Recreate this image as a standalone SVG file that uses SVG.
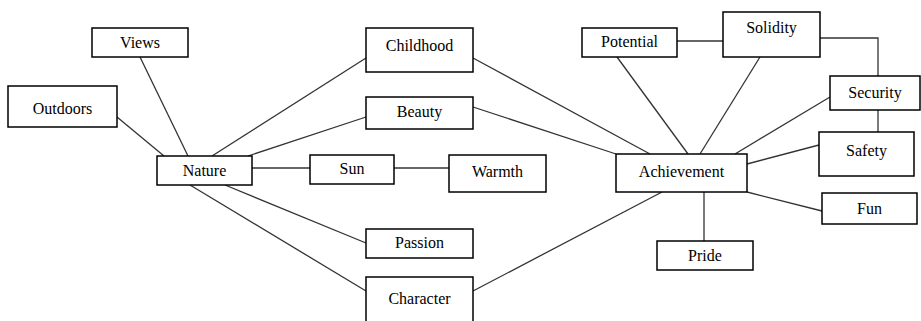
<svg xmlns="http://www.w3.org/2000/svg" width="921" height="321" viewBox="0 0 921 321">
<style>
.n rect{fill:#fff;stroke:#000;stroke-width:1.5}
.n text{font-size:16px;fill:#000;text-anchor:middle}
#edges line,#edges polyline{stroke:#333;stroke-width:1.3;fill:none}
</style>
<rect width="921" height="321" fill="#fff"/>
<g id="edges">
<line x1="140" y1="57" x2="188" y2="156"/>
<line x1="117" y1="117" x2="164" y2="156"/>
<line x1="366" y1="58" x2="212" y2="156"/>
<line x1="366" y1="117" x2="248" y2="156"/>
<line x1="252" y1="168" x2="310" y2="168"/>
<line x1="394" y1="168" x2="449" y2="168"/>
<line x1="225" y1="185" x2="366" y2="243"/>
<line x1="190" y1="185" x2="366" y2="291"/>
<line x1="473" y1="58" x2="650" y2="154"/>
<line x1="473" y1="107" x2="616" y2="154"/>
<line x1="473" y1="291" x2="662" y2="192"/>
<line x1="677" y1="41" x2="723" y2="41"/>
<polyline points="820,38 878,38 878,76"/>
<line x1="878" y1="110" x2="878" y2="132"/>
<line x1="617" y1="57" x2="688" y2="154"/>
<line x1="760" y1="57" x2="700" y2="154"/>
<line x1="830" y1="97" x2="735" y2="154"/>
<line x1="819" y1="145" x2="747" y2="164"/>
<line x1="747" y1="192" x2="822" y2="211"/>
<line x1="704" y1="192" x2="704" y2="241"/>
</g>
<g font-family="Liberation Serif, Times New Roman, serif">
<g id="views" class="n"><rect x="92" y="28" width="96" height="29"/><text x="140" y="48">Views</text></g>
<g id="outdoors" class="n"><rect x="8" y="86" width="109" height="41"/><text x="62.5" y="114">Outdoors</text></g>
<g id="nature" class="n"><rect x="157" y="156" width="95" height="29"/><text x="204.5" y="176">Nature</text></g>
<g id="childhood" class="n"><rect x="366" y="28" width="107" height="44"/><text x="419.5" y="51">Childhood</text></g>
<g id="beauty" class="n"><rect x="366" y="97" width="107" height="32"/><text x="419.5" y="117">Beauty</text></g>
<g id="sun" class="n"><rect x="310" y="155" width="84" height="29"/><text x="352" y="174">Sun</text></g>
<g id="warmth" class="n"><rect x="449" y="155" width="97" height="37"/><text x="497.5" y="177">Warmth</text></g>
<g id="passion" class="n"><rect x="366" y="229" width="107" height="29"/><text x="419.5" y="248">Passion</text></g>
<g id="character" class="n"><rect x="366" y="277" width="107" height="50"/><text x="419.5" y="304">Character</text></g>
<g id="potential" class="n"><rect x="582" y="28" width="95" height="29"/><text x="629.5" y="47">Potential</text></g>
<g id="solidity" class="n"><rect x="723" y="12" width="97" height="45"/><text x="771.5" y="33">Solidity</text></g>
<g id="security" class="n"><rect x="830" y="76" width="90" height="34"/><text x="875" y="98">Security</text></g>
<g id="safety" class="n"><rect x="819" y="132" width="95" height="44"/><text x="866.5" y="156">Safety</text></g>
<g id="achievement" class="n"><rect x="616" y="154" width="131" height="38"/><text x="681.5" y="177">Achievement</text></g>
<g id="fun" class="n"><rect x="822" y="193" width="95" height="31"/><text x="869.5" y="214">Fun</text></g>
<g id="pride" class="n"><rect x="657" y="241" width="96" height="29"/><text x="705" y="261">Pride</text></g>
</g>
</svg>
